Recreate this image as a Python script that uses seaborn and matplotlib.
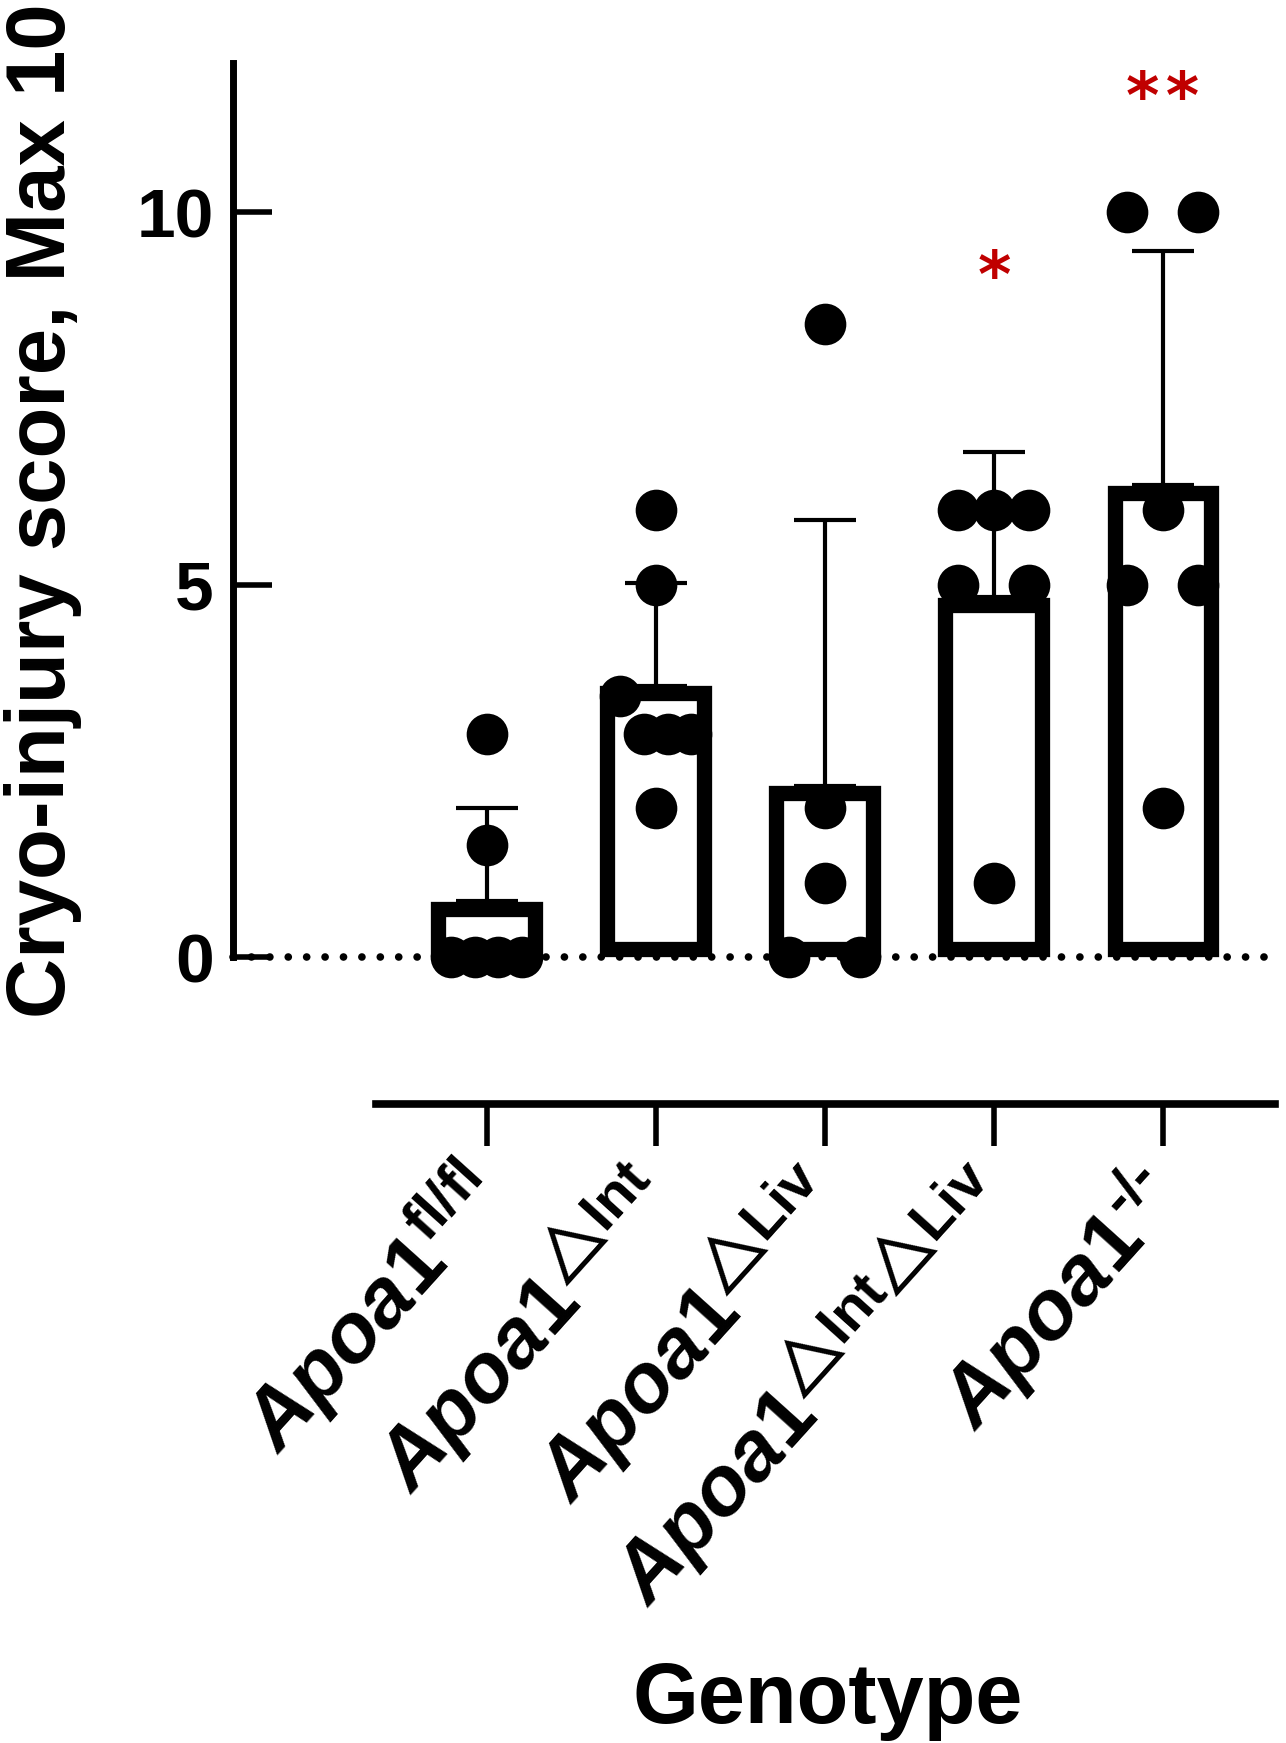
import numpy as np
import pandas as pd
import seaborn as sns
import matplotlib.pyplot as plt
from matplotlib.transforms import ScaledTranslation

# data
genotypes = ["flfl", "dInt", "dLiv", "dIntdLiv", "ko"]
tick_labels = [
    r"$\mathit{Apoa1}^{\text{fl/fl}}$",
    r"$\mathit{Apoa1}^{\text{△Int}}$",
    r"$\mathit{Apoa1}^{\text{△Liv}}$",
    r"$\mathit{Apoa1}^{\text{△Int△Liv}}$",
    r"$\mathit{Apoa1}^{\text{-/-}}$",
]
scores_flfl = [3, 1.5, 0, 0, 0, 0]
scores_dint = [6, 5, 3.5, 3, 3, 3, 2]
scores_dliv = [8.5, 2, 1, 0, 0]
scores_dintdliv = [6, 6, 6, 5, 5, 1]
scores_ko = [10, 10, 6, 5, 5, 2]
sig_marks = ["", "", "", "*", "*\u200a*"]
sig_y = [0, 0, 0, 9.1, 11.5]

all_scores = [scores_flfl, scores_dint, scores_dliv, scores_dintdliv, scores_ko]
df = pd.DataFrame({
    "genotype": np.repeat(genotypes, [len(s) for s in all_scores]),
    "score": np.concatenate(all_scores),
})


# Prism-like scatter: points in the same unit bin spread side by side
def spread(values, width=0.42):
    values = np.asarray(values, dtype=float)
    offsets = np.zeros(len(values))
    bins = np.floor(values)
    for b in np.unique(bins):
        idx = np.where(bins == b)[0]
        idx = idx[np.argsort(-values[idx], kind="stable")]
        if len(idx) > 1:
            offsets[idx] = np.linspace(-width / 2, width / 2, len(idx))
    return offsets


df["pos"] = np.concatenate([i + spread(s) for i, s in enumerate(all_scores)])

plt.rcParams['font.family'] = ['Liberation Sans', 'DejaVu Sans']
plt.rcParams['font.weight'] = 'bold'
plt.rcParams['mathtext.fontset'] = 'custom'
plt.rcParams['mathtext.it'] = 'Liberation Sans:italic:bold'
plt.rcParams['mathtext.bf'] = 'Liberation Sans:bold'
plt.rcParams['mathtext.rm'] = 'Liberation Sans:bold'
plt.rcParams['mathtext.fallback'] = 'stixsans'

fig = plt.figure(figsize=(12.86, 17.43), dpi=100)
ax = fig.add_axes([0.1812, 0.4509, 0.8086, 0.5129])

# bars (mean), border drawn inside the bar like Prism
bar_lw = 11
sns.barplot(data=df, x="genotype", y="score", order=genotypes, errorbar=None,
            color="white", edgecolor="black", linewidth=bar_lw, width=0.573, ax=ax)
inset = (bar_lw / 72 * fig.dpi / 2) / (0.5129 * fig.get_figheight() * fig.dpi / 12)
for p in ax.patches:
    p.set_y(inset)
    p.set_height(p.get_height() - 2 * inset)
    p.set_clip_on(False)
    p.set_zorder(2)

# one-sided SD error bars
stats = df.groupby("genotype")["score"].agg(["mean", "std"]).loc[genotypes]
ax.errorbar(np.arange(len(genotypes)), stats["mean"], yerr=[np.zeros(len(genotypes)), stats["std"]],
            fmt="none", ecolor="black", elinewidth=3, capsize=22, capthick=3, zorder=1.5)

# dotted zero line
ax.axhline(0, color="black", lw=5.5, ls=(0, (0.01, 2.4)), dash_capstyle="round", zorder=3, clip_on=False)

# individual points
sns.scatterplot(x=df["pos"].to_numpy(), y=df["score"].to_numpy(), color="black", s=30 ** 2,
                linewidth=0, ax=ax, zorder=5, clip_on=False, legend=False)

# significance
for i, (m, y) in enumerate(zip(sig_marks, sig_y)):
    if m:
        ax.text(i, y, m, color="#C00000", fontsize=46, fontweight="bold",
                family="DejaVu Sans", ha="center", va="center")

ax.set_xlim(-1.5, 4.65)
ax.set_ylim(0, 12)
ax.set_yticks([0, 5, 10])

sns.despine(ax=ax)
ax.spines["left"].set_bounds(0, 12)
ax.spines["left"].set_linewidth(5)
ax.spines["bottom"].set_position(("outward", 106))
ax.spines["bottom"].set_bounds(-0.656, 4.66)
ax.spines["bottom"].set_linewidth(5.5)
ax.tick_params(axis="y", direction="in", length=28, width=4, labelsize=50, pad=14)
ax.tick_params(axis="x", direction="out", length=30, width=4, pad=10)

ax.set_xticks(range(len(genotypes)))
ax.set_xticklabels(tick_labels, rotation=48, ha="right", va="baseline",
                   rotation_mode="anchor", fontsize=60)
shift = ScaledTranslation(0.22, -0.42, fig.dpi_scale_trans)
for lbl in ax.get_xticklabels():
    lbl.set_transform(lbl.get_transform() + shift)

ax.set_xlabel("")
ax.set_ylabel("")
fig.text(0.0334, 0.7068, "Cryo-injury score, Max 10", rotation=90, fontsize=60,
         fontweight="bold", ha="center", va="center")
fig.text(0.644, 0.024, "Genotype", fontsize=61, fontweight="bold", ha="center", va="center")

fig.savefig("out.png", dpi=100)
